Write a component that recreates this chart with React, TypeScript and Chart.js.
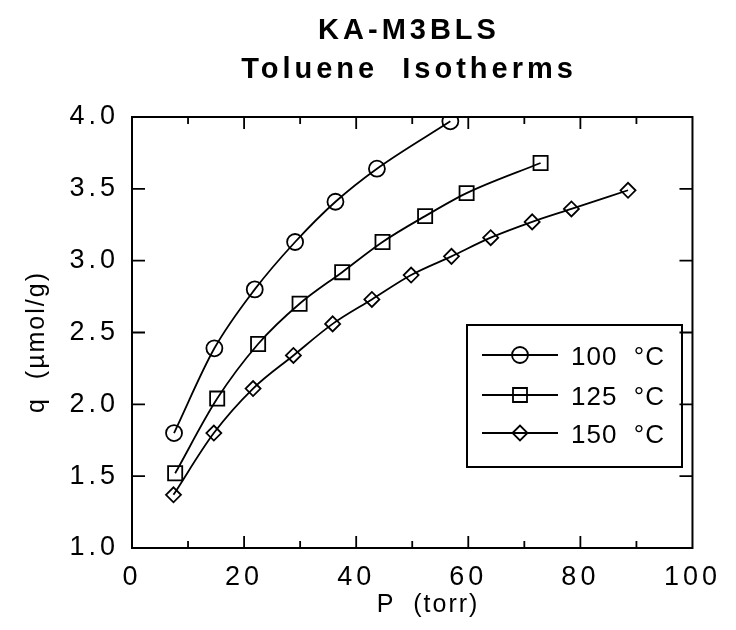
import React, { useEffect, useRef } from 'react';
import { Chart, registerables } from 'chart.js';

Chart.register(...registerables);

// ---- data ----
const p100 = [7.5, 14.7, 21.9, 29.1, 36.3, 43.7, 56.8];
const q100 = [1.8, 2.39, 2.8, 3.13, 3.41, 3.64, 3.97];
const p125 = [7.7, 15.2, 22.5, 29.9, 37.5, 44.7, 52.3, 59.7, 72.9];
const q125 = [1.52, 2.04, 2.42, 2.7, 2.92, 3.13, 3.31, 3.47, 3.68];
const p150 = [7.4, 14.6, 21.6, 28.8, 35.8, 42.8, 49.8, 57.0, 64.0, 71.4, 78.4, 88.5];
const q150 = [1.37, 1.8, 2.11, 2.34, 2.56, 2.73, 2.9, 3.03, 3.16, 3.27, 3.36, 3.49];

const seriesLabels = ['100  °C', '125  °C', '150  °C'];
const seriesMarkers = ['circle', 'rect', 'rectRot'];
const titleLines = ['KA-M3BLS', 'Toluene  Isotherms'];
const xTitle = 'P  (torr)';
const yTitle = 'q  (µmol/g)';
const xMajorTicks = [0, 20, 40, 60, 80, 100];
const xMinorTicks = [10, 30, 50, 70, 90];
const yMajorTicks = [1.0, 1.5, 2.0, 2.5, 3.0, 3.5, 4.0];

const FONT = "'Liberation Sans', Arial, Helvetica, sans-serif";

function toPoints(xs: number[], ys: number[]) {
  return xs.map((x, i) => ({ x, y: ys[i] }));
}

function drawMarker(ctx: CanvasRenderingContext2D, style: string, x: number, y: number) {
  ctx.beginPath();
  if (style === 'circle') {
    ctx.arc(x, y, 8, 0, Math.PI * 2);
  } else if (style === 'rect') {
    ctx.rect(x - 7, y - 7, 14, 14);
  } else {
    const r = 7.5;
    ctx.moveTo(x - r, y);
    ctx.lineTo(x, y - r);
    ctx.lineTo(x + r, y);
    ctx.lineTo(x, y + r);
    ctx.closePath();
  }
  ctx.stroke();
}

const decorPlugin = {
  id: 'decor',
  beforeDraw(chart: any) {
    (chart.ctx as any).letterSpacing = '4px';
  },
  afterDraw(chart: any) {
    const ctx: CanvasRenderingContext2D = chart.ctx;
    const area = chart.chartArea;
    const xs = chart.scales.x;
    const ys = chart.scales.y;
    ctx.save();
    ctx.strokeStyle = '#000';
    ctx.fillStyle = '#000';

    // frame
    ctx.lineWidth = 2;
    ctx.strokeRect(area.left, area.top, area.right - area.left, area.bottom - area.top);

    // inward ticks
    ctx.lineWidth = 1.8;
    ctx.beginPath();
    const tickX = (v: number, len: number) => {
      const px = xs.getPixelForValue(v);
      ctx.moveTo(px, area.bottom);
      ctx.lineTo(px, area.bottom - len);
      ctx.moveTo(px, area.top);
      ctx.lineTo(px, area.top + len);
    };
    xMajorTicks.slice(1, -1).forEach((v) => tickX(v, 12));
    xMinorTicks.forEach((v) => tickX(v, 7));
    yMajorTicks.slice(1, -1).forEach((v) => {
      const py = ys.getPixelForValue(v);
      ctx.moveTo(area.left, py);
      ctx.lineTo(area.left + 13, py);
      ctx.moveTo(area.right, py);
      ctx.lineTo(area.right - 13, py);
    });
    ctx.stroke();

    // title
    (ctx as any).letterSpacing = '4px';
    ctx.font = `bold 29px ${FONT}`;
    ctx.textAlign = 'center';
    ctx.textBaseline = 'alphabetic';
    ctx.fillText(titleLines[0], 401, 31);
    ctx.fillText(titleLines[1], 401, 70);

    // axis titles
    (ctx as any).letterSpacing = '2px';
    ctx.font = `25px ${FONT}`;
    ctx.fillText(xTitle, 420, 604);
    ctx.save();
    ctx.translate(36, 334);
    ctx.rotate(-Math.PI / 2);
    ctx.fillText(yTitle, 0, 0);
    ctx.restore();

    // legend
    const bx = 459, by = 317, bw = 215, bh = 142;
    ctx.lineWidth = 2;
    ctx.strokeRect(bx, by, bw, bh);
    const rows = [347, 387, 425];
    (ctx as any).letterSpacing = '1px';
    ctx.font = `26px ${FONT}`;
    ctx.textAlign = 'left';
    rows.forEach((ry, i) => {
      ctx.lineWidth = 1.8;
      ctx.beginPath();
      ctx.moveTo(474, ry);
      ctx.lineTo(550, ry);
      ctx.stroke();
      drawMarker(ctx, seriesMarkers[i], 512, ry);
      ctx.fillText(seriesLabels[i], 563, ry + 9.5);
    });
    ctx.restore();
    (ctx as any).letterSpacing = '0px';
  },
};

export default function App() {
  const ref = useRef<HTMLCanvasElement | null>(null);

  useEffect(() => {
    if (!ref.current) return;
    const common = {
      showLine: true,
      borderColor: '#000',
      borderWidth: 1.8,
      backgroundColor: 'rgba(0,0,0,0)',
      pointBorderColor: '#000',
      pointBackgroundColor: 'rgba(0,0,0,0)',
      pointBorderWidth: 1.8,
      tension: 0.4,
      cubicInterpolationMode: 'monotone' as const,
    };
    const chart = new Chart(ref.current, {
      type: 'scatter',
      data: {
        datasets: [
          { ...common, label: seriesLabels[0], data: toPoints(p100, q100), pointStyle: 'circle', pointRadius: 8 },
          { ...common, label: seriesLabels[1], data: toPoints(p125, q125), pointStyle: 'rect', pointRadius: 10 },
          { ...common, label: seriesLabels[2], data: toPoints(p150, q150), pointStyle: 'rectRot', pointRadius: 7.5 },
        ],
      },
      options: {
        animation: false,
        responsive: false,
        devicePixelRatio: 1,
        layout: { padding: { top: 109, right: 26, left: 0, bottom: 0 } },
        plugins: {
          legend: { display: false },
          title: { display: false },
          tooltip: { enabled: false },
        },
        scales: {
          x: {
            type: 'linear',
            min: 0,
            max: 100,
            grid: { display: false, drawTicks: false },
            border: { display: false },
            afterFit: (s: any) => { s.height = 74; },
            afterBuildTicks: (s: any) => { s.ticks = xMajorTicks.map((v) => ({ value: v })); },
            ticks: {
              color: '#000',
              padding: 13,
              autoSkip: false,
              maxRotation: 0,
              font: { family: FONT, size: 27 },
              callback: (v: any) => String(v),
            },
          },
          y: {
            type: 'linear',
            min: 1,
            max: 4,
            grid: { display: false, drawTicks: false },
            border: { display: false },
            afterFit: (s: any) => { s.width = 124; },
            afterBuildTicks: (s: any) => { s.ticks = yMajorTicks.map((v) => ({ value: v })); },
            ticks: {
              color: '#000',
              padding: 13,
              autoSkip: false,
              font: { family: FONT, size: 27 },
              callback: (v: any) => Number(v).toFixed(1),
            },
          },
        },
      },
      plugins: [decorPlugin],
    });
    return () => chart.destroy();
  }, []);

  return (
    <div style={{ width: 720, height: 614 }}>
      <canvas ref={ref} width={720} height={614} style={{ display: 'block' }} />
    </div>
  );
}
